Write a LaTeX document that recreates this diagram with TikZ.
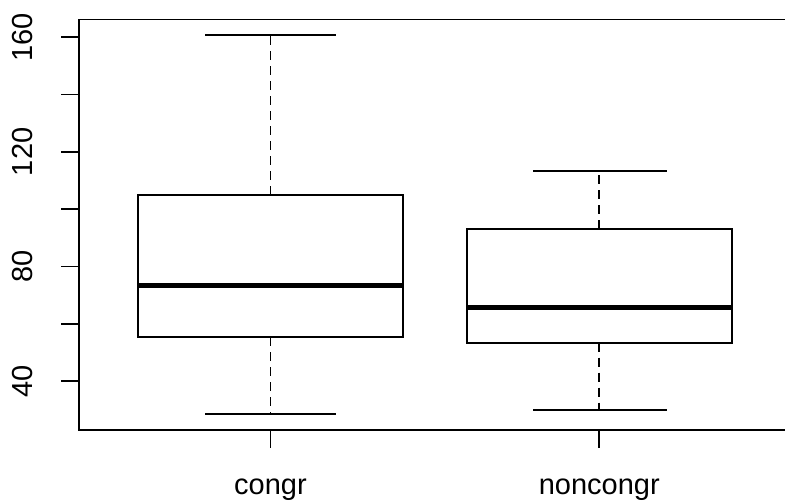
\documentclass[tikz,border=0pt]{standalone}
\usepackage{fontspec}
\setmainfont{Liberation Sans}
\usepackage{tikz}

\begin{document}
\begin{tikzpicture}[x=1pt, y=2.865pt, line width=1.8pt,
    bigote/.style={dashed, dash pattern=on 9pt off 6pt},
    mediana/.style={line width=5pt},
    etiq/.style={inner sep=0pt, font=\fontsize{29}{29}\selectfont}]
  \useasboundingbox (0,-2.55) rectangle (785,173.0);
  \draw (785,166.2) -- (79,166.2) -- (79,22.93) -- (785,22.93); % marco
  \foreach \v in {40,60,...,160}
    \draw (61,\v) -- (79,\v); % eje y
  \foreach \v in {40,80,120,160}
    \node[etiq, rotate=90] (y\v) at (23,\v) {\v};
  % caja congr
  \draw (138.3,55.3) rectangle (402.6,105.0);
  \draw[mediana] (138.3,73.2) -- (402.6,73.2);
  \draw[bigote] (270.5,105.0) -- (270.5,160.9);
  \draw[bigote] (270.5,55.3) -- (270.5,28.5);
  \draw (205,160.9) -- (336,160.9);
  \draw (205,28.5) -- (336,28.5);
  % caja noncongr
  \draw (467,53.4) rectangle (731.7,93.2);
  \draw[mediana] (467,65.8) -- (731.7,65.8);
  \draw[bigote] (599.3,93.2) -- (599.3,113.2);
  \draw[bigote] (599.3,53.4) -- (599.3,29.9);
  \draw (533.3,113.2) -- (666.7,113.2);
  \draw (533.3,29.9) -- (666.7,29.9);
  % eje x
  \draw (270.5,22.93) -- (270.5,16.5);
  \draw (599.3,22.93) -- (599.3,16.5);
  \node[etiq, anchor=base] (congr) at (270.5,0.25) {congr};
  \node[etiq, anchor=base] (noncongr) at (599.3,0.25) {noncongr};
\end{tikzpicture}
\end{document}
